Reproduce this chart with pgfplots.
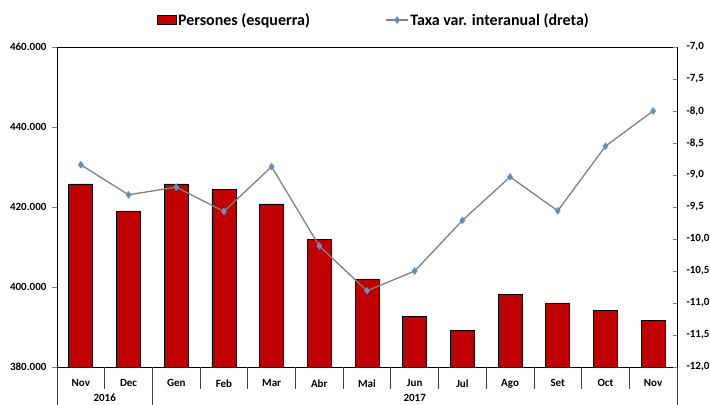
\documentclass[border=0pt]{standalone}
\usepackage{pgfplots}
\pgfplotsset{compat=1.18}
\usepackage{fontspec}
\setmainfont{Carlito}
\definecolor{barred}{RGB}{192,0,0}
\definecolor{linegray}{RGB}{128,128,128}
\definecolor{markblue}{RGB}{100,142,192}
\pgfplotsset{
  lineleg/.style={legend image code/.code={%
    \draw[mark repeat=2, mark phase=2, ##1] plot coordinates {(0pt,0pt) (11pt,0pt) (22pt,0pt)};}},
  barleg/.style={legend image code/.code={%
    \filldraw[fill=barred, draw=black, line width=0.6pt] (0pt,-4.5pt) rectangle (19pt,5pt);}},
  common/.style={
    scale only axis, width=620pt, height=320pt,
    xmin=-0.5, xmax=12.5, clip=false,
    /pgf/number format/assume math mode=true,
    ticklabel style={font=\bfseries\fontsize{11}{12}\selectfont},
  }
}

\begin{document}
\begin{tikzpicture}
\begin{axis}[
  common,
  ymin=380000, ymax=460000,
  ytick={380000,400000,420000,440000,460000},
  scaled y ticks=false,
  yticklabel style={xshift=-2pt, /pgf/number format/.cd, fixed, 1000 sep={.}},
  ytick pos=left, tick align=outside, major tick length=5pt,
  xtick={0,...,12}, xtick style={draw=none},
  xticklabels={Nov,Dec,Gen,Feb,Mar,Abr,Mai,Jun,Jul,Ago,Set,Oct,Nov},
  xticklabel style={yshift=-4pt},
  axis line style={line width=0.8pt},
  legend columns=2,
  legend style={draw=none, fill=none, at={(0.156,1.084)}, anchor=west,
    font=\bfseries\fontsize{16}{18}\selectfont,
    nodes={inner xsep=1.5pt, inner ysep=0pt},
    /tikz/every even column/.append style={column sep=74pt}},
]
\coordinate (sw) at (rel axis cs:0,0);
\coordinate (ne) at (rel axis cs:1,1);
\addplot[ybar, bar width=24pt, fill=barred, draw=black, line width=0.8pt, barleg]
coordinates {
  (0,425750) (1,419000) (2,425750) (3,424300) (4,420750) (5,411800) (6,402000)
  (7,392600) (8,389150) (9,398100) (10,396000) (11,394100) (12,391700)
};
\addlegendentry{Persones (esquerra)}
\addlegendimage{linegray, line width=1.3pt, mark=diamond*, mark size=2.8pt,
  mark options={fill=markblue, draw=markblue}, lineleg}
\addlegendentry{Taxa var. interanual (dreta)}
% separadors de l'eix x
\pgfplotsinvokeforeach{0.5,2.5,3.5,4.5,5.5,6.5,7.5,8.5,9.5,10.5,11.5}{
  \draw[line width=0.8pt, black!75] (axis cs:#1,380000) -- ([yshift=-22pt]axis cs:#1,380000);
}
\pgfplotsinvokeforeach{-0.5,1.5,12.5}{
  \draw[line width=0.8pt, black!75] (axis cs:#1,380000) -- ([yshift=-45pt]axis cs:#1,380000);
}
\node[font=\bfseries\fontsize{11}{12}\selectfont] at ([yshift=-31pt]axis cs:0.5,380000) {2016};
\node[font=\bfseries\fontsize{11}{12}\selectfont] at ([yshift=-31pt]axis cs:7,380000) {2017};
\end{axis}
\begin{axis}[
  common,
  ymin=-12, ymax=-7,
  ytick={-12,-11.5,-11,-10.5,-10,-9.5,-9,-8.5,-8,-7.5,-7},
  yticklabel style={xshift=6pt, /pgf/number format/.cd, fixed, fixed zerofill, precision=1, use comma},
  axis y line*=right, axis x line=none,
  tick align=inside, major tick length=4pt,
  axis line style={line width=0.8pt},
]
\addplot[linegray, line width=1.3pt, mark=diamond*, mark size=2.8pt,
  mark options={fill=markblue, draw=markblue}]
coordinates {
  (0,-8.84) (1,-9.31) (2,-9.19) (3,-9.57) (4,-8.87) (5,-10.11) (6,-10.81)
  (7,-10.50) (8,-9.71) (9,-9.03) (10,-9.56) (11,-8.55) (12,-8.00)
};
\end{axis}
\pgfresetboundingbox
\path ([shift={(-57pt,-38pt)}]sw) rectangle ([shift={(33pt,47pt)}]ne);
\end{tikzpicture}
\end{document}
